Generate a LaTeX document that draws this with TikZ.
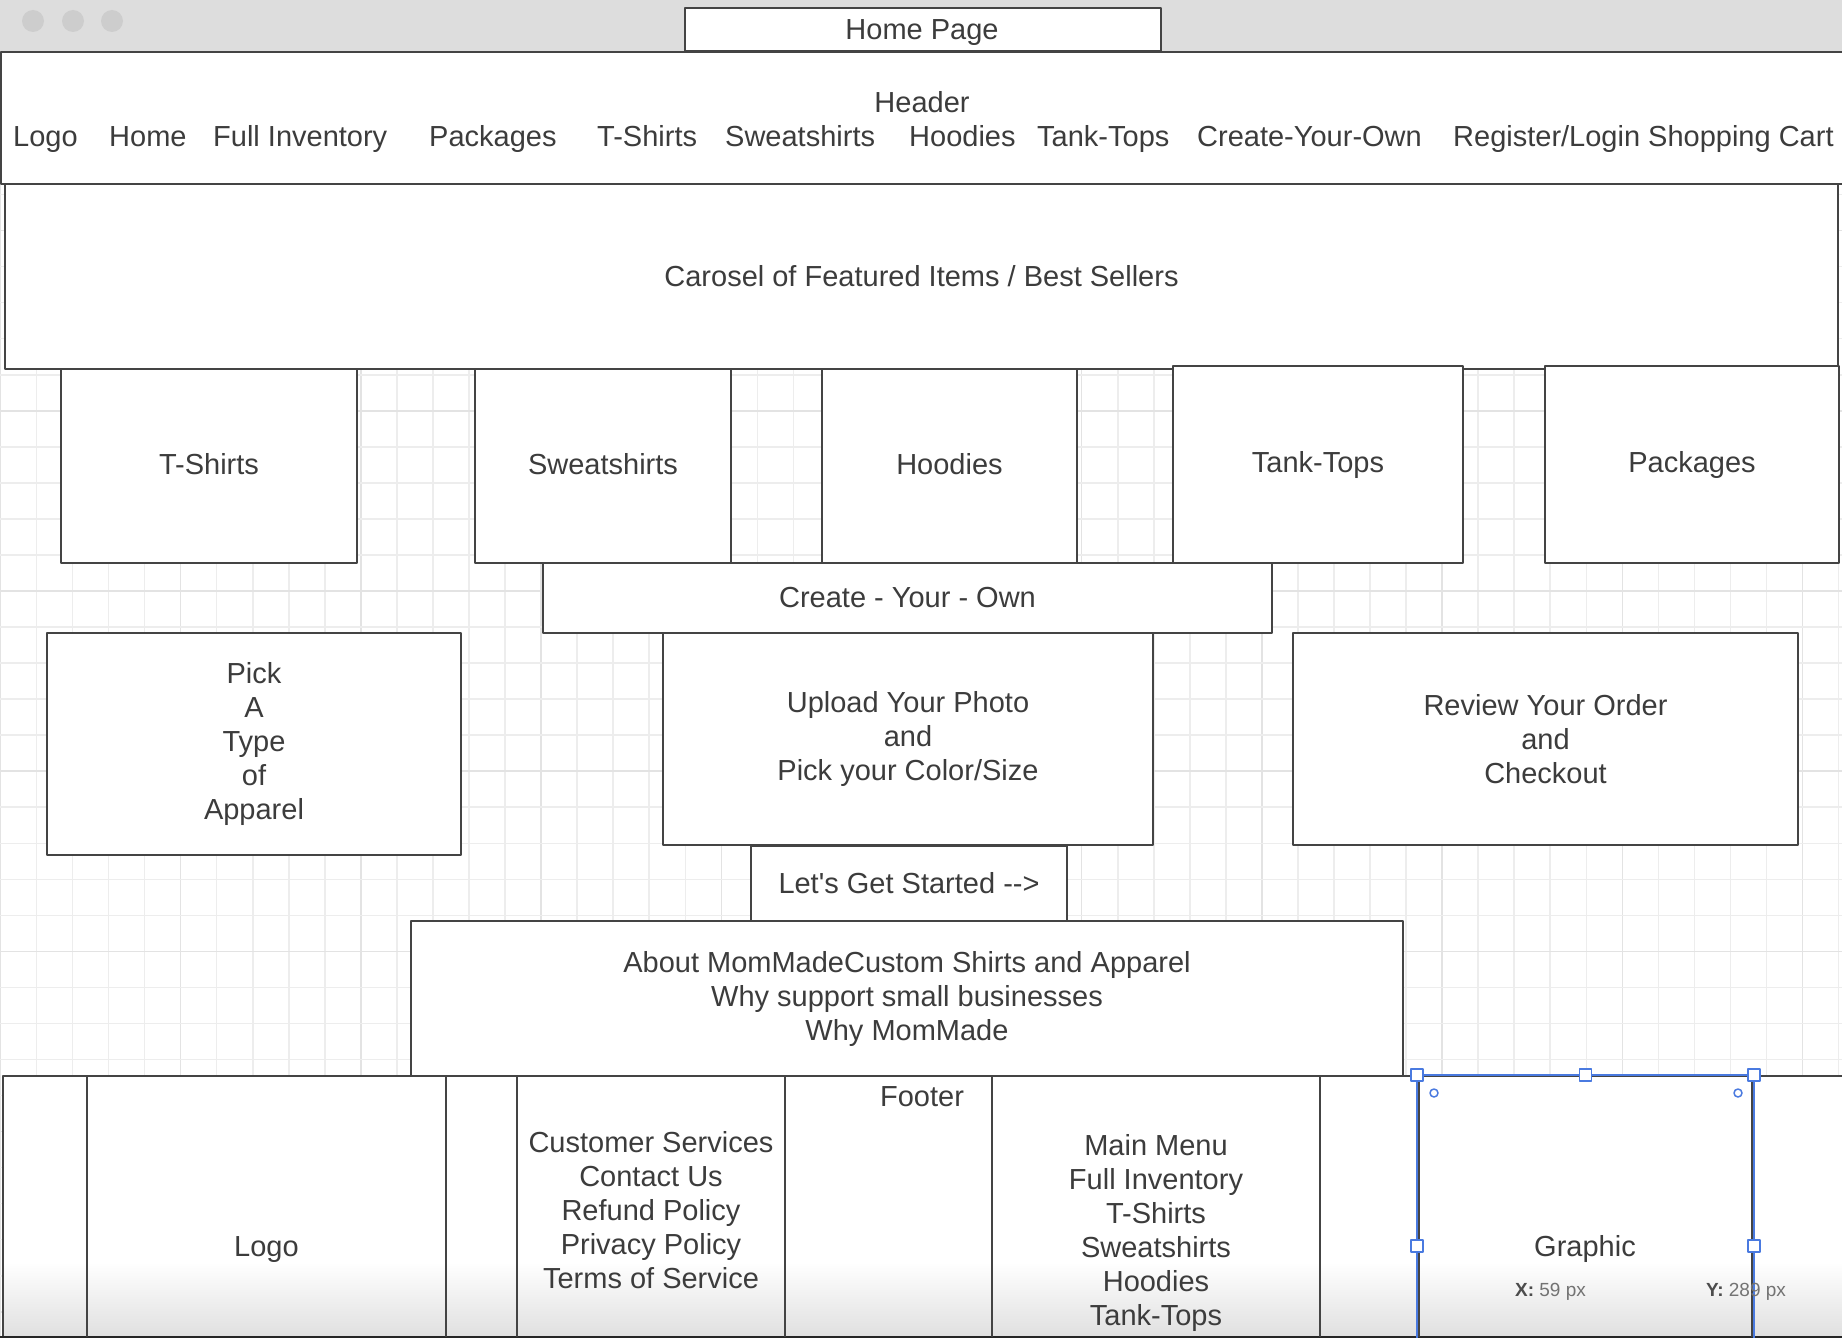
\documentclass[tikz,border=0pt]{standalone}
\usepackage{fontspec}
\setmainfont{Liberation Sans}
\definecolor{txt}{HTML}{3C3C3C}
\definecolor{ln}{HTML}{444444}
\definecolor{bar}{HTML}{DDDDDD}
\definecolor{dot}{HTML}{CDCDCD}
\definecolor{sel}{HTML}{4A7AE0}
\begin{document}
\begin{tikzpicture}[x=1pt, y=-1pt, line join=round, line cap=round, font=\fontsize{29}{34}\selectfont]
	\tikzset{every node/.style={text=txt, align=center, inner sep=0pt},
		box/.style={draw=ln, line width=2pt, fill=white},
		handle/.style={draw=sel, fill=white, line width=1.5pt, minimum size=12pt}}
	\def \W{1842}
	\def \H{1338}
	\useasboundingbox (0,0) rectangle (\W,\H);
	\fill[white] (0,0) rectangle (\W,\H);
	
	% grid paper
	\foreach \k in {0,...,51}{
		\pgfmathsetmacro\gx{0.5+\k*36.04}
		\pgfmathtruncatemacro\gc{mod(\k,5)==0 ? 11 : 7}
		\draw[black!\gc, line width=1.5pt] (\gx,52) -- (\gx,\H);
	}
	\foreach \k in {-14,...,20}{
		\pgfmathsetmacro\gy{591+\k*36.04}
		\pgfmathtruncatemacro\gc{mod(\k,5)==0 ? 11 : 7}
		\draw[black!\gc, line width=1.5pt] (0,\gy) -- (\W,\gy);
	}
	
	% window
	\fill[bar] (0,0) rectangle (\W,52);
	\foreach \x in {33,73,112} \fill[dot] (\x,21) circle (11pt);
	\filldraw[draw=ln, fill=white, line width=2pt] (\W+10,52) -- (1,52) -- (1,184) -- (\W+10,184);
	\node[box, minimum width=476pt, minimum height=43pt] (tab) at (923,30) {};
	\node[anchor=base] (title) at (922,40) {Home Page};
	
	% header
	\node[anchor=base] (hdr) at (922,112) {Header};
	\foreach \x/\t [count=\i] in {13/Logo, 109/Home, 213/Full Inventory, 429/Packages, 597/T-Shirts,
		725/Sweatshirts, 909/Hoodies, 1037/Tank-Tops, 1197/Create-Your-Own, 1453/{Register/Login Shopping Cart}}
		\node[anchor=base west] (nav\i) at (\x,146) {\t};
	
	\node[box, minimum width=1833pt, minimum height=185pt] (carousel) at (921.5,276.5) {Carosel of Featured Items / Best Sellers};
	
	% categories
	\foreach \n/\x/\y/\w/\h/\t in {tshirts/209/466/296/194/T-Shirts, sweat/603/466/256/194/Sweatshirts,
		hood/949.5/466/255/194/Hoodies, tank/1318/464.5/290/197/Tank-Tops, pack/1692/464.5/294/197/Packages}
		\node[box, minimum width=\w pt, minimum height=\h pt, text depth=4.5pt] (\n) at (\x,\y) {\t};
	
	\node[box, minimum width=729pt, minimum height=70pt] (create) at (907.5,598) {Create - Your - Own};
	\node[box, minimum width=414pt, minimum height=222pt] (pick) at (254,744) {Pick\\A\\Type\\of\\Apparel};
	\node[box, minimum width=490pt, minimum height=212pt] (upload) at (908,739) {Upload Your Photo\\and\\Pick your Color/Size};
	\node[box, minimum width=505pt, minimum height=212pt] (review) at (1545.5,739) {Review Your Order\\and\\Checkout};
	\node[box, minimum width=316pt, minimum height=75pt] (start) at (909,883.5) {Let\textquotesingle s Get Started -\kern0pt-\kern0pt>};
	\node[box, minimum width=992pt, minimum height=155pt] (about) at (907,998.5) {About MomMadeCustom Shirts and Apparel\\Why support small businesses\\Why MomMade};
	
	% footer
	\fill[white] (2.5,1076) rectangle (\W,1336);
	\shade[top color=white, bottom color=black!12] (3.5,1262) rectangle (\W,1335);
	\draw[ln, line width=2pt] (\W,1076) -- (2.5,1076) -- (2.5,1336);
	\draw[black!85, line width=3pt] (0,1337) -- (\W,1337);
	\foreach \x in {87,446,517,785,992,1320,1418.5,1752} \draw[ln, line width=2pt] (\x,1076) -- (\x,1336);
	
	\node[anchor=base] (flogo) at (266.5,1256) {Logo};
	\node (fcs) at (651,1210) {Customer Services\\Contact Us\\Refund Policy\\Privacy Policy\\Terms of Service};
	\node[anchor=base] (flabel) at (922,1106) {Footer};
	\node (fmenu) at (1156,1232.5) {Main Menu\\Full Inventory\\T-Shirts\\Sweatshirts\\Hoodies\\Tank-Tops};
	\node[anchor=base] (fgraphic) at (1585,1256) {Graphic};
	
	% selection
	\draw[sel, line width=2pt] (1417,\H) -- (1417,1075) -- (1754,1075) -- (1754,\H);
	\foreach \p [count=\i] in {(1417,1075),(1585.5,1075),(1754,1075),(1417,1246),(1754,1246)}
		\node[handle] (h\i) at \p {};
	\foreach \x in {1434,1738} \draw[sel, line width=1.5pt] (\x,1093) circle (4pt);
	\node[anchor=base, font=\fontsize{19}{22}\selectfont, text=black!55] (posx) at (1550.5,1296) {\textbf{\color{black!70}X:} 59 px};
	\node[anchor=base, font=\fontsize{19}{22}\selectfont, text=black!55] (posy) at (1746,1296) {\textbf{\color{black!70}Y:} 289 px};
\end{tikzpicture}
\end{document}
